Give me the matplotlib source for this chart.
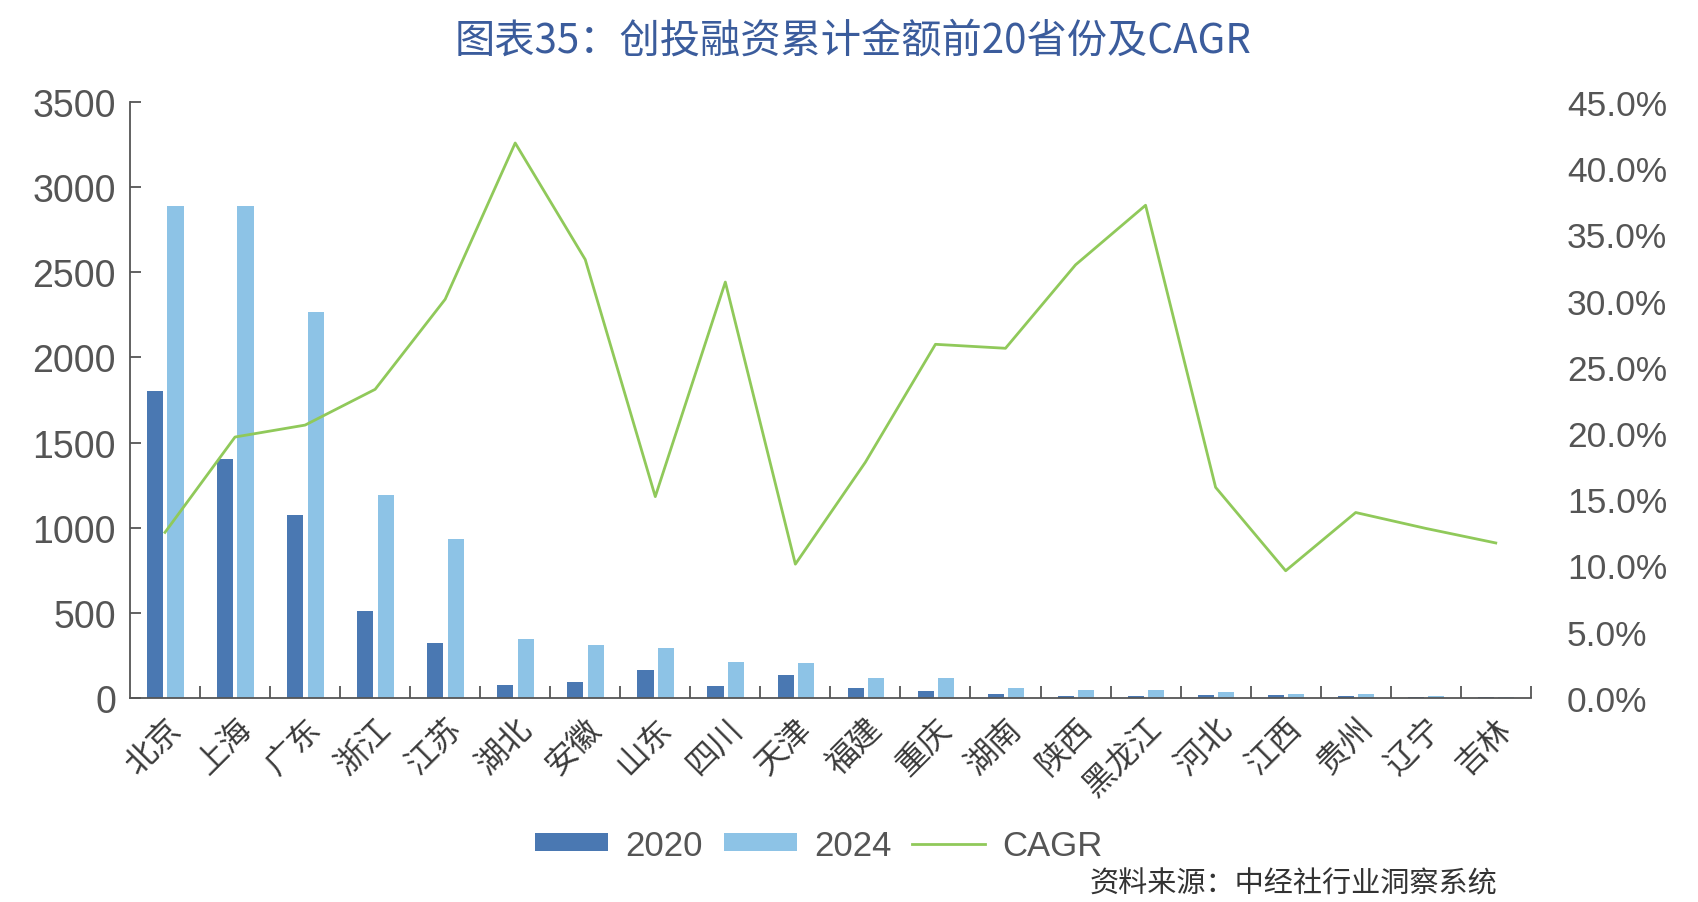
import matplotlib.pyplot as plt
import numpy as np
from matplotlib.ticker import FuncFormatter, FixedLocator

plt.rcParams['font.family'] = ['Noto Sans CJK SC', 'DejaVu Sans']

provinces = ["北京", "上海", "广东", "浙江", "江苏", "湖北", "安徽", "山东", "四川", "天津",
             "福建", "重庆", "湖南", "陕西", "黑龙江", "河北", "江西", "贵州", "辽宁", "吉林"]
v2020 = [1805, 1405, 1075, 510, 320, 78, 95, 165, 68, 135,
         60, 42, 23, 12, 9, 18, 15, 14, 8, 5]
v2024 = [2890, 2890, 2265, 1190, 935, 348, 312, 296, 210, 203,
         117, 117, 58, 47, 48, 35, 25, 25, 12, 6]
cagr = [12.5, 19.7, 20.6, 23.3, 30.1, 41.9, 33.1, 15.2, 31.4, 10.1,
        17.8, 26.7, 26.4, 32.7, 37.2, 15.9, 9.6, 14.0, 12.8, 11.7]

c_dark = "#4a78b2"
c_light = "#8dc3e6"
c_line = "#90c95a"
c_text = "#555555"
num_font = "Liberation Sans"

fig = plt.figure(figsize=(16.99, 9.03), dpi=100)
ax = fig.add_axes([0.0765, 0.226, 0.8245, 0.66])
x = np.arange(len(provinces))
w = 0.23
ax.bar(x - 0.14, v2020, width=w, color=c_dark, label="2020")
ax.bar(x + 0.15, v2024, width=w, color=c_light, label="2024")

ax.set_xlim(-0.5, len(provinces) - 0.5)
ax.set_ylim(0, 3500)
ax.set_yticks(np.arange(0, 3501, 500))
for s in ["top", "right"]:
    ax.spines[s].set_visible(False)
for s in ["left", "bottom"]:
    ax.spines[s].set_color("#555555")
    ax.spines[s].set_linewidth(1.3)
ax.tick_params(axis="y", direction="in", length=8, width=1.3, colors="#555555",
               labelsize=27, labelcolor=c_text, pad=10)
for lab in ax.get_yticklabels():
    lab.set_family(num_font)

ax.set_xticks(x)
ax.set_xticklabels(provinces, rotation=45, ha="right", va="top",
                   rotation_mode="anchor", fontsize=23, color="#3a3a3a")
ax.tick_params(axis="x", which="major", length=0, pad=10)
ax.xaxis.set_minor_locator(FixedLocator(np.arange(0.5, len(provinces), 1)))
ax.tick_params(axis="x", which="minor", direction="in", length=9, width=1.3, colors="#555555")

# CAGR on the right axis
ax2 = ax.twinx()
ax2.plot(x, [v / 100 for v in cagr], color=c_line, lw=2.0, label="CAGR")
ax2.set_ylim(0, 0.45)
ax2.set_yticks(np.arange(0, 0.4501, 0.05))
ax2.yaxis.set_major_formatter(FuncFormatter(lambda v, p: f"{v*100:.1f}%"))
for s in ["top", "right", "left", "bottom"]:
    ax2.spines[s].set_visible(False)
ax2.tick_params(axis="y", length=0, labelsize=25.5, labelcolor=c_text, pad=26)
for lab in ax2.get_yticklabels():
    lab.set_family(num_font)

h1, l1 = ax.get_legend_handles_labels()
h2, l2 = ax2.get_legend_handles_labels()
fig.legend(h1 + h2, l1 + l2, loc="center", bbox_to_anchor=(0.482, 0.063), ncol=3,
           frameon=False, handlelength=2.1, handleheight=0.4, columnspacing=0.6,
           handletextpad=0.5, prop={"family": num_font, "size": 25}, labelcolor=c_text)

fig.text(0.502, 0.955, "图表35：创投融资累计金额前20省份及CAGR", ha="center", va="center",
         fontsize=29, color="#3b5c9c")
fig.text(0.641, 0.004, "资料来源：中经社行业洞察系统", ha="left", va="bottom",
         fontsize=21, color="#333333")

fig.savefig("out.png", dpi=100)
